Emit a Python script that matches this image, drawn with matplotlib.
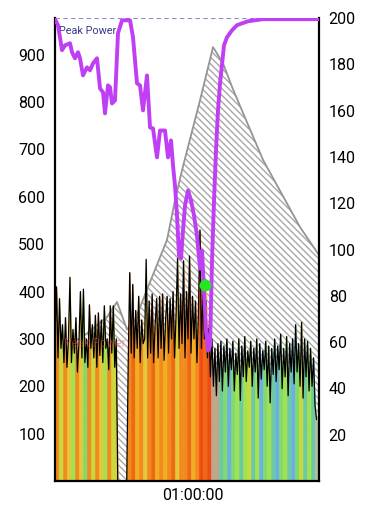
import numpy as np
import matplotlib
matplotlib.use("Agg")
import matplotlib.pyplot as plt
from matplotlib.ticker import FixedLocator, FuncFormatter

plt.rcParams['font.family'] = ['Roboto', 'DejaVu Sans']
plt.rcParams['hatch.linewidth'] = 1.0
plt.rcParams['hatch.color'] = '#a8a8a8'

# ---------------- data ----------------
duration = 6890  # seconds
sample_step = 39  # seconds between power samples

power = [
    # first block
    300, 410, 260, 385, 280, 330, 250, 345, 240, 300, 430, 250, 320, 270, 345, 230,
    290, 400, 260, 405, 250, 300, 240, 372, 280, 330, 260, 350, 240, 355, 265, 340,
    250, 370, 280, 300, 235, 370, 270, 370, 240, 300,
    # pause
    0, 0, 0, 0, 0, 0, 0,
    # second block
    250, 440, 270, 415, 260, 360, 280, 390, 250, 340, 290, 300, 468, 260, 380, 270,
    395, 250, 330, 385, 260, 390, 280, 395, 255, 340, 390, 270, 385, 300, 400, 260,
    350, 470, 280, 395, 290, 465, 260, 400, 300, 475, 270, 390, 300, 380, 250, 360,
    530, 280, 400, 300, 380, 260, 330,
    # third block
    220, 300, 200, 280, 180, 290, 210, 295, 190, 285, 230, 300, 200, 280, 235, 295,
    190, 270, 225, 300, 170, 285, 220, 305, 210, 275, 240, 295, 200, 280, 230, 300,
    175, 290, 215, 275, 235, 295, 200, 285, 165, 280, 225, 300, 210, 285, 235, 310,
    195, 280, 220, 305, 180, 290, 230, 300, 205, 330, 230, 290, 200, 335, 175, 300,
    220, 295, 190, 280, 200, 260, 160, 130,
]

O, DO, YO, Y = '#f28a1c', '#ee6a12', '#f2ae22', '#e2c83a'
YG, LG, G, T = '#c6d93e', '#a0e250', '#80da6c', '#6ccaa2'
B, R, TAN, GR = '#6cb0e2', '#f24a14', '#bca888', '#b4bcaa'
strip_colors = [
    O, YG, O, Y, LG, O, Y, G, O, YG, O, Y, LG, O, YG, Y,
    O, O,
    O, DO, YO, O, Y, O, DO, YO, O, YO, O, DO, Y, O, O, DO, YO, O, R, DO, R,
    TAN, TAN, T, G, B, G, LG, T, LG, YG, T, LG, B, G, LG, T, B, G, LG, T,
    B, G, YG, T, LG, T, GR,
]

peak_t = [0, 653, 1357, 1618, 1879, 2088, 2480, 2923, 3132, 3315, 3785, 4124,
          4385, 4620, 4907, 5429, 6395, 6890]
peak_v = [290, 300, 346, 378, 320, 340, 420, 509, 593, 656, 804, 916,
          882, 832, 777, 678, 536, 477]

hr_t = [0, 78, 183, 261, 392, 444, 522, 600, 653, 731, 835, 914, 992, 1096, 1175,
        1253, 1305, 1383, 1436, 1488, 1566, 1644, 1749, 1958, 2036, 2140, 2219,
        2297, 2401, 2480, 2558, 2662, 2741, 2871, 2949, 3028, 3080, 3132, 3184,
        3236, 3289, 3341, 3393, 3471, 3550, 3628, 3706, 3785, 3837, 3889, 3941,
        3993, 4046, 4098, 4150, 4202, 4254, 4307, 4411, 4489, 4620, 4750, 5037,
        5429, 6890]
hr_v = [199.5, 196.9, 186.1, 188.2, 189.1, 185.2, 182.6, 185.2, 182.6, 175.2,
        178.7, 177.4, 180.4, 182.6, 169.6, 167.9, 158.8, 170.9, 170.1, 163.1,
        164.4, 193.4, 199.0, 199.0, 191.7, 171.8, 170.9, 160.1, 175.2, 152.7,
        152.3, 139.8, 151.4, 151.4, 139.8, 147.1, 136.3, 127.6, 114.7, 97.4,
        96.1, 108.2, 119.0, 125.5, 121.2, 114.7, 106.0, 91.7, 99.5, 82.2, 64.9,
        56.3, 58.4, 95.2, 121.2, 142.8, 160.1, 171.8, 188.2, 191.7, 194.7,
        196.9, 198.6, 199.5, 199.5]

peak_power = 977
marker_t, marker_v = 3915, 414
marker_line_t = [3930, 3980]
marker_line_v = [399, 319]

left_ticks = [100, 200, 300, 400, 500, 600, 700, 800, 900]
right_ticks = [20, 40, 60, 80, 100, 120, 140, 160, 180, 200]
x_ticks = [3600]

# ---------------- figure ----------------
W, H = 378, 512
fig = plt.figure(figsize=(W / 100, H / 100), dpi=100)
ax = fig.add_axes([55 / W, 31 / H, 264 / W, 463 / H])
ax.set_xlim(0, duration)
ax.set_ylim(0, 977.5)

# hatched peak curve
ax.fill_between(peak_t, 0, peak_v, facecolor='none', edgecolor='#a8a8a8',
                hatch='\\\\\\\\\\', linewidth=0, zorder=1)
ax.plot(peak_t, peak_v, color='#959595', lw=1.3, zorder=1.2)

# coloured strips under the power line
pt = np.arange(len(power)) * sample_step
pv = np.array(power, dtype=float)
edges = np.linspace(0, duration, len(strip_colors) + 1)
for j, c in enumerate(strip_colors):
    a, b = edges[j], edges[j + 1]
    inside = pt[(pt > a) & (pt < b)]
    xs = np.concatenate([[a], inside, [b]])
    ys = np.interp(xs, pt, pv)
    ax.fill_between(xs, 0, ys, facecolor=c, edgecolor=c, linewidth=0.4, zorder=2)

ax.plot(pt, pv, color='black', lw=0.9, zorder=3)

# faint label over bars
ax.text(230, 291, 'Peak Power', color='#e05060', alpha=0.45, fontsize=8.5,
        va='center', ha='left', zorder=3.5)

# peak power reference
ax.axhline(peak_power, color='#8c8cd4', lw=0.8, ls=(0, (4, 3)), zorder=4)
ax.text(110, 950, 'Peak Power', color='#3a3a8c', fontsize=7.8, va='center',
        ha='left', zorder=4)

ax.plot(marker_line_t, marker_line_v, color='#f2d020', lw=2, ls=(0, (3, 2)), zorder=4)

# axes styling
for s in ['top', 'right']:
    ax.spines[s].set_visible(False)
for s in ['left', 'bottom']:
    ax.spines[s].set_linewidth(1.6)
ax.yaxis.set_major_locator(FixedLocator(left_ticks))
ax.xaxis.set_major_locator(FixedLocator(x_ticks))
ax.xaxis.set_major_formatter(FuncFormatter(
    lambda v, p: '%02d:%02d:%02d' % (v // 3600, (v % 3600) // 60, v % 60)))
ax.tick_params(axis='both', length=0, labelsize=11.5, colors='black', pad=7)
ax.tick_params(axis='x', pad=5)

ax2 = ax.twinx()
ax2.set_ylim(0, 200)
ax2.plot(hr_t, hr_v, color='#bf3ff5', lw=2.8, solid_joinstyle='round',
         solid_capstyle='round', zorder=5)
ax2.plot([marker_t], [marker_v * 200 / 977.5], 'o', color='#22e622',
         markersize=7.5, zorder=6)
for s in ['top', 'left', 'bottom']:
    ax2.spines[s].set_visible(False)
ax2.spines['right'].set_linewidth(1.6)
ax2.yaxis.set_major_locator(FixedLocator(right_ticks))
ax2.tick_params(axis='y', length=0, labelsize=11.5, pad=7)
ax2.set_xlim(0, duration)

fig.savefig('out.png', dpi=100)
